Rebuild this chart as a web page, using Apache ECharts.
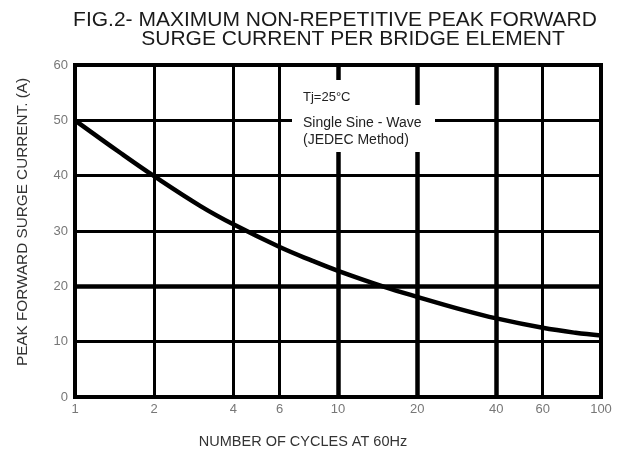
<!DOCTYPE html>
<html>
<head>
<meta charset="utf-8">
<script src="https://cdn.jsdelivr.net/npm/echarts@6/dist/echarts.min.js"></script>
<style>html,body{margin:0;padding:0;background:#fff}#c{width:622px;height:454px}</style>
</head>
<body>
<div id="c"></div>
<script>
var titleLines = ['FIG.2- MAXIMUM NON-REPETITIVE PEAK FORWARD', 'SURGE CURRENT PER BRIDGE ELEMENT'];
var xName = 'NUMBER OF CYCLES AT 60Hz';
var yName = 'PEAK FORWARD SURGE CURRENT. (A)';
var xTicks = [1, 2, 4, 6, 10, 20, 40, 60, 100];
var cycles = [1, 1.5, 2, 3, 4, 6, 8, 10, 15, 20, 30, 40, 60, 80, 100];
var current = [50, 44.0, 39.9, 34.5, 31.2, 27.1, 24.6, 22.8, 19.9, 18.1, 15.7, 14.2, 12.5, 11.6, 11.1];
var noteTj = 'Tj=25°C';
var noteWave = ['Single Sine - Wave', '(JEDEC Method)'];

var font = '"Liberation Sans", Arial, sans-serif';
var chart = echarts.init(document.getElementById('c'), null, {renderer: 'canvas'});
var data = cycles.map(function (c, i) { return [c, current[i]]; });

chart.setOption({
  animation: false,
  backgroundColor: '#fff',
  grid: {left: 75, right: 21, top: 65, bottom: 57, show: true, borderColor: '#000', borderWidth: 4, backgroundColor: 'transparent'},
  xAxis: {
    type: 'log', logBase: 10, min: 1, max: 100,
    name: xName, nameLocation: 'middle', nameGap: 37,
    nameTextStyle: {fontFamily: font, fontSize: 14.5, color: '#333', padding: [0, 70, 0, 0]},
    axisLine: {show: false},
    axisTick: {show: false, customValues: xTicks},
    axisLabel: {customValues: xTicks, fontFamily: font, fontSize: 13, color: '#777', margin: 6},
    splitLine: {show: true, lineStyle: {color: '#000', width: 3}},
    minorSplitLine: {show: false}
  },
  yAxis: {
    type: 'value', min: 0, max: 60, interval: 10,
    name: yName, nameLocation: 'middle', nameGap: 45,
    nameTextStyle: {fontFamily: font, fontSize: 15.3, color: '#333', padding: [0, 0, 0, 18]},
    axisLine: {show: false},
    axisTick: {show: false},
    axisLabel: {fontFamily: font, fontSize: 13, color: '#777', margin: 7},
    splitLine: {show: true, lineStyle: {color: '#000', width: 3}}
  },
  series: [{
    type: 'line',
    data: data,
    smooth: 0.4,
    showSymbol: false,
    symbol: 'none',
    lineStyle: {color: '#000', width: 4.5},
    z: 3,
    markLine: {
      silent: true, symbol: 'none', label: {show: false},
      lineStyle: {color: '#000', type: 'solid', width: 4.5},
      data: [{yAxis: 20}, {xAxis: 20}, {xAxis: 40}, {xAxis: 10}]
    }
  }],
  graphic: [
    {type: 'rect', z: 50, shape: {x: 292, y: 80, width: 73, height: 72}, style: {fill: '#fff'}},
    {type: 'rect', z: 50, shape: {x: 292, y: 105, width: 143, height: 47}, style: {fill: '#fff'}},
    {type: 'text', z: 51, x: 303, y: 97, style: {text: noteTj, font: '13px ' + font, fill: '#222', verticalAlign: 'middle'}},
    {type: 'text', z: 51, x: 303, y: 115, style: {text: noteWave.join('\n'), font: '14px ' + font, lineHeight: 17, fill: '#222', verticalAlign: 'top'}},
    {type: 'text', z: 51, x: 335, y: 20.5, style: {text: titleLines[0], font: '21px ' + font, fill: '#1a1a1a', align: 'center', verticalAlign: 'middle'}},
    {type: 'text', z: 51, x: 353, y: 39.5, style: {text: titleLines[1], font: '21px ' + font, fill: '#1a1a1a', align: 'center', verticalAlign: 'middle'}}
  ]
});
</script>
</body>
</html>
